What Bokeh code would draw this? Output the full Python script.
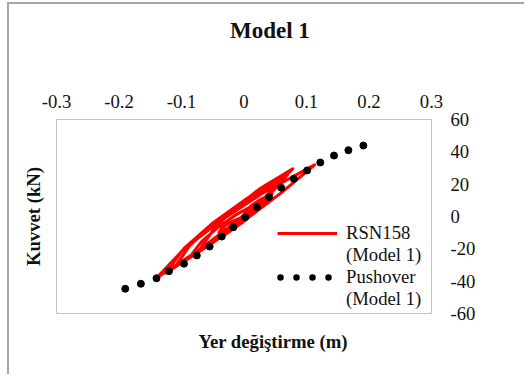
from bokeh.plotting import figure
from bokeh.models import (Range1d, FixedTicker, NumeralTickFormatter, Title,
                          Legend, LegendItem)
from bokeh.embed import file_html
from bokeh.resources import INLINE

# Pushover capacity curve: roof displacement (m) vs base shear (kN)
pushover_disp = [-0.19, -0.165, -0.14, -0.12, -0.096, -0.0755, -0.055, -0.0356,
                 -0.017, 0.002, 0.0207, 0.04, 0.0595, 0.0798, 0.101, 0.122,
                 0.144, 0.167, 0.191]
pushover_force = [-44.7, -41.6, -38.2, -33.8, -29.2, -24.1, -18.6, -12.4,
                  -6.6, -0.4, 5.8, 12.0, 17.8, 23.3, 28.5, 33.4,
                  37.7, 41.0, 43.9]

# RSN158 time-history response (hysteresis loops)
rsn158_disp = [0.0, 0.003, 0.0125, 0.026, 0.045,
               0.026, 0.0, -0.031, -0.07,
               -0.048, -0.016, 0.025, 0.078,
               0.0355, -0.016, -0.0735, -0.14,
               -0.097, -0.0385, 0.030, 0.113,
               0.0615, 0.004, -0.0575, -0.125,
               -0.096, -0.0515, 0.003, 0.07,
               0.037, -0.006, -0.055, -0.11,
               -0.087, -0.0495, -0.002, 0.055,
               0.03, -0.003, -0.04, -0.085,
               -0.068, -0.0425, -0.011, 0.03,
               0.0205, 0.005, -0.0145, -0.04,
               -0.036, -0.028, -0.016, 0.0]
rsn158_force = [0.0, 3.5, 7.0, 10.5, 14.0,
                5.5, -3.0, -11.5, -20.0,
                -7.6, 4.75, 17.1, 29.5,
                12.6, -4.25, -21.1, -38.0,
                -20.5, -3.0, 14.5, 32.0,
                15.25, -1.5, -18.25, -35.0,
                -19.75, -4.5, 10.75, 26.0,
                11.75, -2.5, -16.75, -31.0,
                -18.0, -5.0, 8.0, 21.0,
                9.75, -1.5, -12.75, -24.0,
                -15.5, -7.0, 1.5, 10.0,
                5.0, 0.0, -5.0, -10.0,
                -7.5, -5.0, -2.5, 0.0]

x_ticks = [-0.3, -0.2, -0.1, 0, 0.1, 0.2, 0.3]
y_ticks = [-60, -40, -20, 0, 20, 40, 60]

SERIF = "Liberation Serif"
INK = "#111111"

p = figure(width=517, height=372, output_backend="svg", toolbar_location=None,
           x_range=Range1d(-0.3, 0.3), y_range=Range1d(-60, 60),
           x_axis_location="above", y_axis_location="right",
           min_border_left=46, min_border_right=95,
           min_border_top=115, min_border_bottom=63)
p.styles = {"margin-left": "7px", "margin-top": "2px",
            "border-left": "2px solid #a6a6a6", "border-top": "2px solid #a6a6a6"}

p.outline_line_color = "#c4c4c4"
p.outline_line_width = 1
p.xgrid.visible = False
p.ygrid.visible = False

for ax in (p.xaxis[0], p.yaxis[0]):
    ax.axis_line_color = None
    ax.major_tick_line_color = None
    ax.minor_tick_line_color = None
    ax.major_tick_in = 0
    ax.major_tick_out = 0
    ax.minor_tick_in = 0
    ax.minor_tick_out = 0
    ax.major_label_text_font = SERIF
    ax.major_label_text_font_size = "18.7px"
    ax.major_label_text_color = INK

xax = p.xaxis[0]
xax.ticker = FixedTicker(ticks=x_ticks)
xax.formatter = NumeralTickFormatter(format="0.[0]")
xax.major_label_standoff = 12
# chart title sits above the top tick labels (nbsp padding centres it on the chart area)
xax.axis_label = "\u00a0" * 9 + "Model 1"
xax.axis_label_text_font = SERIF
xax.axis_label_text_font_size = "23px"
xax.axis_label_text_font_style = "bold"
xax.axis_label_text_color = INK
xax.axis_label_standoff = 49

yax = p.yaxis[0]
yax.ticker = FixedTicker(ticks=y_ticks)
yax.formatter = NumeralTickFormatter(format="0")
yax.major_label_standoff = 19
yax.major_label_text_align = "left"

# hysteresis response, then the pushover dots on top of it
red = p.line(rsn158_disp, rsn158_force, line_color="#ff0000", line_width=3,
             line_join="round")
p.scatter(pushover_disp, pushover_force, size=7, color="black")
# legend keys: a round-dot line for the pushover, a blank for continuation rows
push_key = p.line([float("nan")], [float("nan")], line_color="black",
                  line_width=6.5, line_dash="0 16", line_dash_offset=13,
                  line_cap="round")
blank = p.line([], [], line_alpha=0)

legend = Legend(items=[
    LegendItem(label="RSN158", renderers=[red]),
    LegendItem(label="(Model 1)", renderers=[blank]),
    LegendItem(label="Pushover", renderers=[push_key]),
    LegendItem(label="(Model 1)", renderers=[blank]),
], location=(221, 3))
legend.label_text_font = SERIF
legend.label_text_font_size = "18.7px"
legend.label_text_color = INK
legend.border_line_color = None
legend.background_fill_alpha = 0
legend.padding = 0
legend.margin = 0
legend.spacing = 0
legend.glyph_width = 60
legend.glyph_height = 20
legend.label_height = 20
legend.label_standoff = 9
p.add_layout(legend)

# axis titles
p.add_layout(Title(text="Yer değiştirme (m)", align="left", offset=142,
                   standoff=33, vertical_align="middle", text_font=SERIF,
                   text_font_size="18.7px", text_font_style="bold",
                   text_color=INK), "below")
p.add_layout(Title(text="Kuvvet (kN)", align="center", standoff=24,
                   vertical_align="middle", text_font=SERIF,
                   text_font_size="18.7px", text_font_style="bold",
                   text_color=INK), "left")

open("out.html", "w").write(file_html(p, INLINE))
